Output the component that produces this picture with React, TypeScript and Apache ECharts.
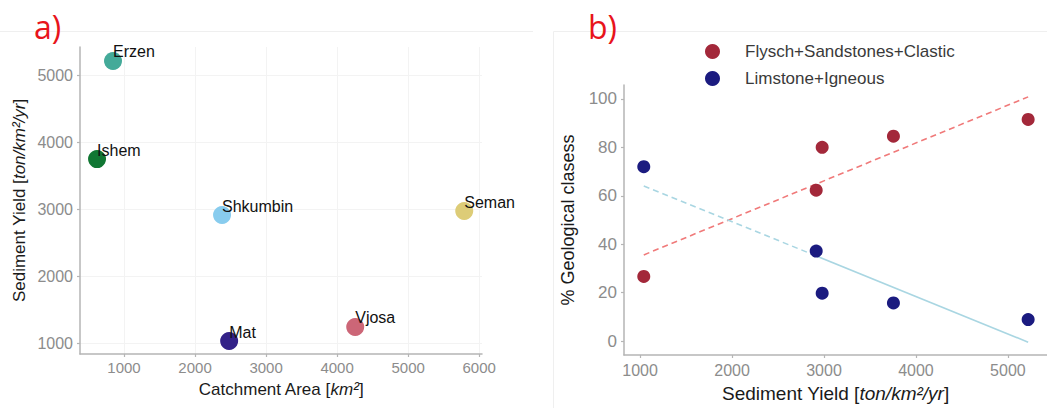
import React, { useEffect, useRef } from "react";
import * as echarts from "echarts";

// ---- Panel a) data ----
const rivers = ["Erzen", "Ishem", "Shkumbin", "Seman", "Mat", "Vjosa"];
const catchmentArea = [845, 620, 2380, 5790, 2480, 4255];
const sedimentYieldA = [5210, 3745, 2910, 2970, 1030, 1240];
const riverColors = ["#44AA99", "#117733", "#88CCEE", "#DDCC77", "#332288", "#CC6677"];
const xTicksA = [1000, 2000, 3000, 4000, 5000, 6000];
const yTicksA = [1000, 2000, 3000, 4000, 5000];

// ---- Panel b) data ----
const sedimentYieldB = [1040, 2915, 2980, 3755, 5220];
const flyschPct = [26.7, 62.3, 80, 84.6, 91.5];
const limestonePct = [72, 37.2, 19.8, 15.8, 8.9];
const flyschTrendX = [1040, 5220];
const flyschTrendY = [35.6, 100.8];
const limeTrendDashX = [1040, 2856];
const limeTrendDashY = [64, 36.1];
const limeTrendSolidX = [2856, 5220];
const limeTrendSolidY = [36.1, -0.4];
const xTicksB = [1000, 2000, 3000, 4000, 5000];
const yTicksB = [0, 20, 40, 60, 80, 100];
const seriesNamesB = ["Flysch+Sandstones+Clastic", "Limstone+Igneous"];

const FONT = "'Liberation Sans', Arial, sans-serif";
const pairs = (xs: number[], ys: number[]) => xs.map((x, i) => [x, ys[i]]);
const plain = (v: number) => String(v);

export default function App() {
  const ref = useRef<HTMLDivElement>(null);
  useEffect(() => {
    if (!ref.current) return;
    const chart = echarts.init(ref.current, undefined, { renderer: "svg" });
    const axisLine = { show: true, onZero: false, lineStyle: { color: "#b5b5b5", width: 1.5 } };
    const tickStyle = { lineStyle: { color: "#b5b5b5", width: 1.2 }, length: 3 };
    const labelColor = "#8c8c8c";
    const nameColor = "#1a1a1a";
    const option: any = {
      animation: false,
      textStyle: { fontFamily: FONT },
      grid: [
        { left: 80, top: 47, width: 402, height: 307 },
        { left: 624, top: 85, width: 423, height: 275 },
      ],
      legend: {
        data: seriesNamesB,
        orient: "vertical",
        left: 700,
        top: 38,
        icon: "circle",
        itemWidth: 15,
        itemHeight: 15,
        itemGap: 10,
        textStyle: { fontSize: 17, color: "#3a3a3a", fontFamily: FONT, padding: [0, 0, 0, 20] },
      },
      xAxis: [
        {
          type: "value",
          gridIndex: 0,
          min: 380,
          max: 6040,
          axisLine,
          axisTick: { show: true, customValues: xTicksA, ...tickStyle },
          axisLabel: { customValues: xTicksA, formatter: plain, color: labelColor, fontSize: 15, margin: 6, fontFamily: FONT },
          splitLine: { show: true, lineStyle: { color: "#f3f3f3", width: 1 } },
          name: "{a|Catchment Area [}{b|km²}{a|]}",
          nameLocation: "middle",
          nameGap: 27,
          nameTextStyle: {
            rich: {
              a: { fontSize: 17, color: nameColor, fontFamily: FONT },
              b: { fontSize: 17, color: nameColor, fontFamily: FONT, fontStyle: "italic" },
            },
          },
        },
        {
          type: "value",
          gridIndex: 1,
          min: 825,
          max: 5425,
          axisLine,
          axisTick: { show: true, customValues: xTicksB, ...tickStyle },
          axisLabel: { customValues: xTicksB, formatter: plain, color: labelColor, fontSize: 16, margin: 7, fontFamily: FONT },
          splitLine: { show: false },
          name: "{a|Sediment Yield [}{b|ton/km²/yr}{a|]}",
          nameLocation: "middle",
          nameGap: 29,
          nameTextStyle: {
            rich: {
              a: { fontSize: 19, color: nameColor, fontFamily: FONT },
              b: { fontSize: 19, color: nameColor, fontFamily: FONT, fontStyle: "italic" },
            },
          },
        },
      ],
      yAxis: [
        {
          type: "value",
          gridIndex: 0,
          min: 836,
          max: 5418,
          axisLine,
          axisTick: { show: true, customValues: yTicksA, ...tickStyle },
          axisLabel: { customValues: yTicksA, formatter: plain, color: labelColor, fontSize: 16, margin: 7, fontFamily: FONT },
          splitLine: { show: true, lineStyle: { color: "#f3f3f3", width: 1 } },
          name: "{a|Sediment Yield [}{b|ton/km²/yr}{a|]}",
          nameLocation: "middle",
          nameGap: 52,
          nameTextStyle: {
            rich: {
              a: { fontSize: 17, color: nameColor, fontFamily: FONT },
              b: { fontSize: 17, color: nameColor, fontFamily: FONT, fontStyle: "italic" },
            },
          },
        },
        {
          type: "value",
          gridIndex: 1,
          min: -5.7,
          max: 105.7,
          axisLine,
          axisTick: { show: true, customValues: yTicksB, ...tickStyle },
          axisLabel: { customValues: yTicksB, formatter: plain, color: labelColor, fontSize: 17, margin: 7, fontFamily: FONT },
          splitLine: { show: false },
          name: "% Geological clasess",
          nameLocation: "middle",
          nameGap: 47,
          nameTextStyle: { fontSize: 18, color: nameColor, fontFamily: FONT },
        },
      ],
      graphic: [
        { type: "line", shape: { x1: 0, y1: 31.5, x2: 533, y2: 31.5 }, style: { stroke: "#efefef", lineWidth: 1 }, silent: true },
        { type: "line", shape: { x1: 553.5, y1: 31.5, x2: 1047, y2: 31.5 }, style: { stroke: "#efefef", lineWidth: 1 }, silent: true },
        { type: "line", shape: { x1: 553.5, y1: 31.5, x2: 553.5, y2: 408 }, style: { stroke: "#efefef", lineWidth: 1 }, silent: true },
        { type: "text", left: 34, top: 10, style: { text: "a)", fill: "#e8141b", fontSize: 32, fontFamily: "'Open Sans', " + FONT } },
        { type: "text", left: 588, top: 10, style: { text: "b)", fill: "#e8141b", fontSize: 32, fontFamily: "'Open Sans', " + FONT } },
      ],
      series: [
        {
          type: "scatter",
          xAxisIndex: 0,
          yAxisIndex: 0,
          symbolSize: 18,
          data: rivers.map((r, i) => ({
            name: r,
            value: [catchmentArea[i], sedimentYieldA[i]],
            itemStyle: { color: riverColors[i], opacity: 1 },
          })),
          label: {
            show: true,
            formatter: "{b}",
            position: [9, -8],
            color: "#111",
            fontSize: 16,
            fontFamily: FONT,
          },
          z: 3,
        },
        {
          type: "line",
          xAxisIndex: 1,
          yAxisIndex: 1,
          data: pairs(flyschTrendX, flyschTrendY),
          symbol: "none",
          lineStyle: { color: "#f07a7a", width: 1.6, type: [6, 4] },
          z: 2,
        },
        {
          type: "line",
          xAxisIndex: 1,
          yAxisIndex: 1,
          data: pairs(limeTrendDashX, limeTrendDashY),
          symbol: "none",
          lineStyle: { color: "#a9d6e2", width: 1.6, type: [6, 4] },
          z: 2,
        },
        {
          type: "line",
          xAxisIndex: 1,
          yAxisIndex: 1,
          data: pairs(limeTrendSolidX, limeTrendSolidY),
          symbol: "none",
          lineStyle: { color: "#a9d6e2", width: 1.6 },
          z: 2,
        },
        {
          name: seriesNamesB[0],
          type: "scatter",
          xAxisIndex: 1,
          yAxisIndex: 1,
          symbolSize: 13,
          itemStyle: { color: "#a3283a", opacity: 1 },
          data: pairs(sedimentYieldB, flyschPct),
          z: 3,
        },
        {
          name: seriesNamesB[1],
          type: "scatter",
          xAxisIndex: 1,
          yAxisIndex: 1,
          symbolSize: 13,
          itemStyle: { color: "#1b1b80", opacity: 1 },
          data: pairs(sedimentYieldB, limestonePct),
          z: 3,
        },
      ],
    };
    chart.setOption(option);
    return () => chart.dispose();
  }, []);
  return (
    <div
      ref={ref}
      style={{ position: "absolute", left: 0, top: 0, width: 1047, height: 408, background: "#fff" }}
    />
  );
}
